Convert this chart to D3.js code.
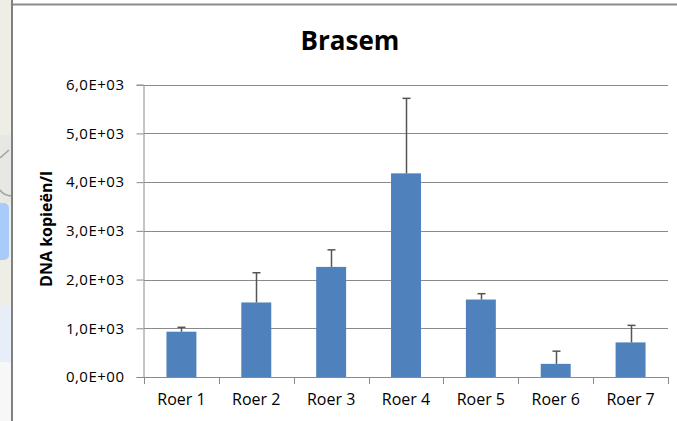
<!DOCTYPE html>
<html>
<head>
<meta charset="utf-8">
<script src="https://cdn.jsdelivr.net/npm/d3@7"></script>
<style>
  body { margin: 0; background: #fff; }
  text { font-family: "Open Sans", sans-serif; fill: #000; }
</style>
</head>
<body>
<div id="chart"></div>
<script>
// chart data
var categories = ["Roer 1", "Roer 2", "Roer 3", "Roer 4", "Roer 5", "Roer 6", "Roer 7"];
var values = [930, 1530, 2260, 4180, 1590, 270, 710];
var errors = [90, 610, 350, 1540, 120, 260, 350];
var yTicks = [0, 1000, 2000, 3000, 4000, 5000, 6000];
var yTickLabels = ["0,0E+00", "1,0E+03", "2,0E+03", "3,0E+03", "4,0E+03", "5,0E+03", "6,0E+03"];

var width = 677,
    height = 421;

var svg = d3.select("#chart")
    .append("svg")
    .attr("width", width)
    .attr("height", height);

// bit of the window behind the chart, on the left
svg.append("rect").attr("x", 0).attr("y", 0).attr("width", 12).attr("height", height).attr("fill", "#eeede6");
svg.append("rect").attr("x", 0).attr("y", 135).attr("width", 12).attr("height", 68).attr("fill", "#e7e7e3");
svg.append("path")
    .attr("d", "M0,158 L9,150 M0,190 Q4,196 12,196")
    .attr("stroke", "#a0a0a0").attr("stroke-width", 1.5).attr("fill", "none");
svg.append("rect").attr("x", -6).attr("y", 203).attr("width", 15).attr("height", 57).attr("rx", 5).attr("fill", "#a8cbfa");
svg.append("rect").attr("x", 0).attr("y", 305).attr("width", 12).attr("height", 57).attr("fill", "#e8eef8");
svg.append("rect").attr("x", 0).attr("y", 362).attr("width", 12).attr("height", 59).attr("fill", "#f7f7f7");

// chart frame lines
svg.append("line").attr("x1", 12).attr("x2", width).attr("y1", 4.5).attr("y2", 4.5)
    .attr("stroke", "#8c8c8c").attr("stroke-width", 2);
svg.append("line").attr("x1", 12).attr("x2", 12).attr("y1", 0).attr("y2", height)
    .attr("stroke", "#808080").attr("stroke-width", 2);

// scales
var x = d3.scaleBand()
    .domain(categories)
    .range([144, 668])
    .paddingInner(0.6)
    .paddingOuter(0.3);

var y = d3.scaleLinear()
    .domain([0, 6000])
    .range([377, 84.7]);

// gridlines
svg.append("g")
    .selectAll("line")
    .data(yTicks.slice(1))
    .enter()
    .append("line")
    .attr("x1", 144)
    .attr("x2", 668)
    .attr("y1", (d) => Math.round(y(d)) + 0.5)
    .attr("y2", (d) => Math.round(y(d)) + 0.5)
    .attr("stroke", "#8a8a8a");

// y axis
var yAxis = svg.append("g")
    .attr("transform", "translate(143.5,0)")
    .call(d3.axisLeft(y)
        .tickValues(yTicks)
        .tickSize(7)
        .tickPadding(12)
        .tickFormat((d, i) => yTickLabels[i]));
yAxis.selectAll("line, path").attr("stroke", "#8a8a8a");
yAxis.selectAll("text")
    .attr("font-size", "15px")
    .attr("letter-spacing", "0.5px")
    .attr("font-family", "Open Sans, sans-serif")
    .attr("fill", "#000");

// x axis with ticks between categories
var step = x.step();
var xTicks = d3.range(categories.length + 1).map((i) => x.range()[0] + i * step);
var xAxis = svg.append("g");
xAxis.append("line")
    .attr("x1", 144).attr("x2", 668)
    .attr("y1", 377.5).attr("y2", 377.5)
    .attr("stroke", "#8a8a8a");
xAxis.selectAll(".tick")
    .data(xTicks)
    .enter()
    .append("line")
    .attr("x1", (d) => Math.round(d) + 0.5)
    .attr("x2", (d) => Math.round(d) + 0.5)
    .attr("y1", 377)
    .attr("y2", 384)
    .attr("stroke", "#8a8a8a");
xAxis.selectAll("text")
    .data(categories)
    .enter()
    .append("text")
    .attr("x", (d) => x(d) + x.bandwidth() / 2)
    .attr("y", 405)
    .attr("text-anchor", "middle")
    .attr("font-size", "16px")
    .text((d) => d);

// bars
svg.append("g")
    .selectAll("rect")
    .data(categories)
    .enter()
    .append("rect")
    .attr("x", (d) => x(d))
    .attr("y", (d, i) => y(values[i]))
    .attr("width", x.bandwidth())
    .attr("height", (d, i) => y(0) - y(values[i]))
    .attr("fill", "#4f81bd");

// error bars (plus only)
var err = svg.append("g").attr("stroke", "#555").attr("stroke-width", 1.5);
categories.forEach(function (c, i) {
    var cx = Math.round(x(c) + x.bandwidth() / 2) + 0.5;
    err.append("line")
        .attr("x1", cx).attr("x2", cx)
        .attr("y1", y(values[i])).attr("y2", y(values[i] + errors[i]));
    err.append("line")
        .attr("x1", cx - 4).attr("x2", cx + 4)
        .attr("y1", y(values[i] + errors[i])).attr("y2", y(values[i] + errors[i]));
});

// title
svg.append("text")
    .attr("x", 350)
    .attr("y", 50)
    .attr("text-anchor", "middle")
    .attr("font-size", "26px")
    .attr("font-weight", "bold")
    .text("Brasem");

// y axis title
svg.append("text")
    .attr("transform", "translate(52,229) rotate(-90)")
    .attr("text-anchor", "middle")
    .attr("font-size", "16px")
    .attr("font-weight", "bold")
    .text("DNA kopieën/l");
</script>
</body>
</html>
